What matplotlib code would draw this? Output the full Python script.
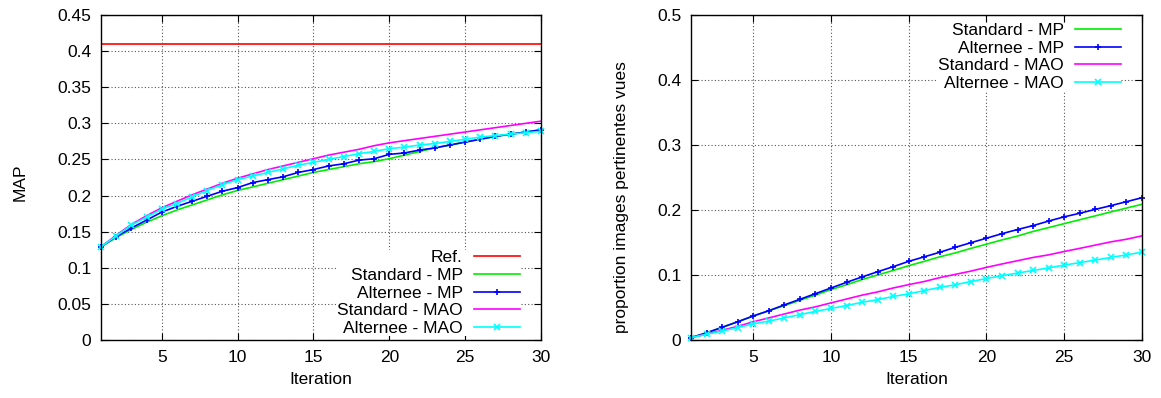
import numpy as np
import matplotlib
matplotlib.use("Agg")
import matplotlib.pyplot as plt
from matplotlib.ticker import FormatStrFormatter

plt.rcParams['font.family'] = ['Liberation Sans', 'DejaVu Sans']

iterations = list(range(1, 31))

# left panel: MAP per iteration
map_ref = 0.41
map_std_mp = [0.129, 0.142, 0.153, 0.163, 0.172, 0.180, 0.187, 0.194, 0.201, 0.207,
              0.212, 0.217, 0.222, 0.227, 0.232, 0.236, 0.240, 0.244, 0.247, 0.251,
              0.256, 0.261, 0.266, 0.270, 0.274, 0.278, 0.282, 0.285, 0.288, 0.291]
map_alt_mp = [0.129, 0.143, 0.155, 0.166, 0.177, 0.185, 0.192, 0.199, 0.206, 0.211,
              0.218, 0.222, 0.226, 0.232, 0.236, 0.241, 0.244, 0.249, 0.251, 0.257,
              0.259, 0.263, 0.266, 0.270, 0.274, 0.278, 0.282, 0.285, 0.288, 0.291]
map_std_mao = [0.129, 0.145, 0.160, 0.172, 0.183, 0.192, 0.201, 0.209, 0.217, 0.224,
               0.230, 0.236, 0.241, 0.246, 0.251, 0.256, 0.260, 0.264, 0.269, 0.273,
               0.276, 0.279, 0.282, 0.285, 0.288, 0.291, 0.294, 0.297, 0.300, 0.303]
map_alt_mao = [0.129, 0.144, 0.159, 0.170, 0.181, 0.189, 0.198, 0.207, 0.215, 0.222,
               0.227, 0.232, 0.237, 0.242, 0.246, 0.250, 0.254, 0.258, 0.261, 0.265,
               0.267, 0.270, 0.272, 0.275, 0.278, 0.281, 0.283, 0.285, 0.287, 0.289]

# right panel: proportion of relevant images seen
prop_std_mp = [0.0036, 0.011, 0.0195, 0.028, 0.0367, 0.045, 0.053, 0.061, 0.069, 0.0776,
               0.085, 0.093, 0.100, 0.107, 0.1143, 0.121, 0.128, 0.134, 0.141, 0.1474,
               0.154, 0.160, 0.167, 0.173, 0.179, 0.185, 0.191, 0.197, 0.203, 0.2087]
prop_alt_mp = [0.0036, 0.011, 0.0195, 0.028, 0.037, 0.045, 0.054, 0.0626, 0.0713, 0.080,
               0.0887, 0.097, 0.105, 0.1128, 0.1210, 0.1280, 0.135, 0.1426, 0.1497, 0.1566,
               0.1636, 0.170, 0.176, 0.183, 0.1895, 0.195, 0.201, 0.2067, 0.2128, 0.2189]
prop_std_mao = [0.0036, 0.009, 0.015, 0.021, 0.028, 0.034, 0.040, 0.046, 0.051, 0.0571,
                0.063, 0.069, 0.074, 0.080, 0.0852, 0.090, 0.096, 0.101, 0.106, 0.1117,
                0.117, 0.122, 0.127, 0.131, 0.1362, 0.141, 0.146, 0.151, 0.155, 0.1602]
prop_alt_mao = [0.0036, 0.0087, 0.0138, 0.019, 0.0248, 0.029, 0.034, 0.039, 0.044, 0.0485,
                0.053, 0.058, 0.062, 0.067, 0.0710, 0.0760, 0.081, 0.085, 0.090, 0.0945,
                0.099, 0.103, 0.107, 0.111, 0.1153, 0.119, 0.123, 0.127, 0.131, 0.1352]

labels = ["Standard - MP", "Alternee - MP", "Standard - MAO", "Alternee - MAO"]
colors = ["#00ee00", "#0000ff", "#ff00ff", "#00ffff"]
markers = [None, "+", None, "x"]

FS = 12.5

fig = plt.figure(figsize=(11.61, 3.98), dpi=100)
ax1 = fig.add_axes([101 / 1161, 58 / 398, 440 / 1161, 325 / 398])
ax2 = fig.add_axes([691 / 1161, 58 / 398, 451 / 1161, 325 / 398])


def style_axis(ax, ymax, ystep, ylabel, label_xy):
    ax.set_xlim(1, 30)
    ax.set_ylim(0, ymax)
    ax.set_xticks([5, 10, 15, 20, 25, 30])
    ax.set_yticks(np.arange(0, ymax + ystep / 2, ystep))
    ax.yaxis.set_major_formatter(FormatStrFormatter('%g'))
    ax.tick_params(direction='in', top=True, right=True, length=5, width=0.8,
                   labelsize=FS, pad=7)
    ax.grid(True, color='#555555', linestyle=(0, (1, 2)), linewidth=0.8)
    ax.set_xlabel("Iteration", fontsize=FS, labelpad=5)
    ax.set_ylabel(ylabel, fontsize=FS)
    ax.yaxis.set_label_coords(*label_xy)
    for s in ax.spines.values():
        s.set_linewidth(1.0)


def add_legend(ax, loc, anchor):
    ax.legend(loc=loc, bbox_to_anchor=anchor, markerfirst=False, frameon=True,
              framealpha=1, edgecolor='none', fancybox=False, fontsize=FS,
              handlelength=2.65, handletextpad=0.63, labelspacing=0.14,
              borderpad=0.0, borderaxespad=0.0)


ax1.axhline(map_ref, color="#ff0000", lw=1.2, label="Ref.")
for vals, lab, c, m in zip([map_std_mp, map_alt_mp, map_std_mao, map_alt_mao],
                           labels, colors, markers):
    ax1.plot(iterations, vals, color=c, lw=1.2, marker=m, markersize=5,
             markeredgewidth=1.2, label=lab, clip_on=False)
style_axis(ax1, 0.45, 0.05, "MAP", (-0.166, 0.486))
add_legend(ax1, 'lower right', (0.952, 0.013))

for vals, lab, c, m in zip([prop_std_mp, prop_alt_mp, prop_std_mao, prop_alt_mao],
                           labels, colors, markers):
    ax2.plot(iterations, vals, color=c, lw=1.2, marker=m, markersize=5,
             markeredgewidth=1.2, label=lab, clip_on=False)
style_axis(ax2, 0.5, 0.1, "proportion images pertinentes vues", (-0.137, 0.44))
add_legend(ax2, 'upper right', (0.9534, 0.975))

fig.savefig("out.png", dpi=100)
